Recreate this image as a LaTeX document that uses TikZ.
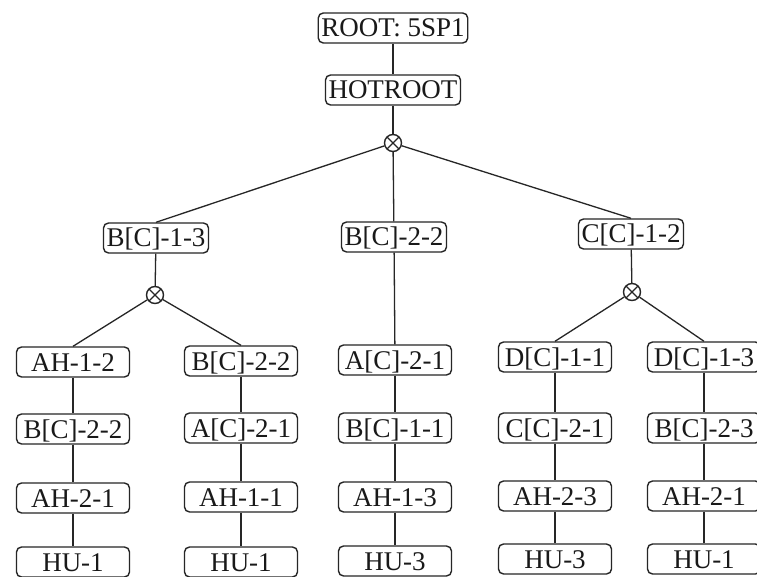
\documentclass[tikz,border=0pt]{standalone}
\usepackage{fontspec}
\setmainfont{Liberation Serif}
\begin{document}
\begin{tikzpicture}[x=1pt,y=-1pt,
  every node/.style={font=\fontsize{27}{31}\selectfont, text=black!90},
  box/.style={draw=black!85, line width=1.4pt, rounded corners=5pt,
    inner xsep=3pt, inner ysep=0pt, text height=18pt, text depth=0pt,
    minimum height=30pt},
  colbox/.style={box, minimum width=113pt},
  xjoin/.style={draw=black!85, line width=1.4pt, circle, minimum size=17pt,
    inner sep=0pt,
    path picture={\draw[line width=1.2pt]
      (path picture bounding box.north west) -- (path picture bounding box.south east)
      (path picture bounding box.north east) -- (path picture bounding box.south west);}},
  link/.style={draw=black!85, line width=1.3pt}]
\clip (0,0) rectangle (757,577);
\fill[white] (0,0) rectangle (757,577);

% top of the tree
\node[box] (root) at (393,28) {ROOT: 5SP1};
\node[box] (hot) at (393,90) {HOTROOT};
\node[xjoin] (j0) at (393,143) {};

% second level
\node[box] (b13) at (156,238) {B[C]-1-3};
\node[box] (b22) at (394,237) {B[C]-2-2};
\node[box] (c12) at (631,234) {C[C]-1-2};
\node[xjoin] (j1) at (155,295) {};
\node[xjoin] (j2) at (632,292) {};

% five columns of leaves
\node[colbox] (a1) at (73,362) {AH-1-2};
\node[colbox] (a2) at (73,429) {B[C]-2-2};
\node[colbox] (a3) at (73,498) {AH-2-1};
\node[colbox] (a4) at (73,562) {HU-1};

\node[colbox] (b1) at (241,361) {B[C]-2-2};
\node[colbox] (b2) at (241,428) {A[C]-2-1};
\node[colbox] (b3) at (241,497) {AH-1-1};
\node[colbox] (b4) at (241,562) {HU-1};

\node[colbox] (c1) at (395,360) {A[C]-2-1};
\node[colbox] (c2) at (395,428) {B[C]-1-1};
\node[colbox] (c3) at (395,497) {AH-1-3};
\node[colbox] (c4) at (395,561) {HU-3};

\node[colbox] (d1) at (555,357) {D[C]-1-1};
\node[colbox] (d2) at (555,428) {C[C]-2-1};
\node[colbox] (d3) at (555,496) {AH-2-3};
\node[colbox] (d4) at (555,559) {HU-3};

\node[colbox] (e1) at (704,357) {D[C]-1-3};
\node[colbox] (e2) at (704,428) {B[C]-2-3};
\node[colbox] (e3) at (704,496) {AH-2-1};
\node[colbox] (e4) at (704,559) {HU-1};

% connectors
\path[link] (root) -- (hot);
\path[link] (hot) -- (j0);
\path[link] (j0) -- (b13.north);
\path[link] (j0) -- (b22);
\path[link] (j0) -- (c12.north);
\path[link] (b13) -- (j1);
\path[link] (c12) -- (j2);
\path[link] (j1) -- (a1.north);
\path[link] (j1) -- (b1.north);
\path[link] (b22) -- (c1);
\path[link] (j2) -- (d1.north);
\path[link] (j2) -- (e1.north);
\foreach \col in {a,b,c,d,e}{
  \path[link] (\col1) -- (\col2);
  \path[link] (\col2) -- (\col3);
  \path[link] (\col3) -- (\col4);
}
\end{tikzpicture}
\end{document}
